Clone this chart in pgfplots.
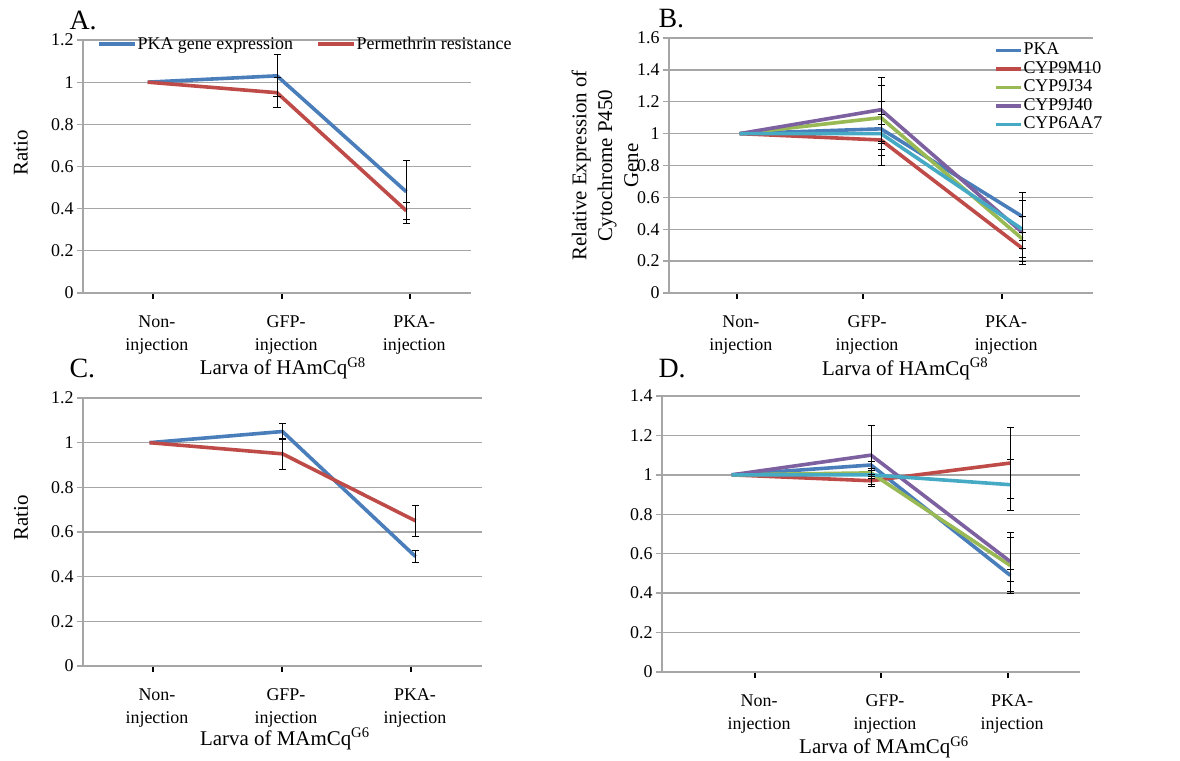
\documentclass[border=0pt]{standalone}
\usepackage{fontspec}
\setmainfont{Liberation Serif}
\usepackage{pgfplots}
\pgfplotsset{compat=1.18}
\definecolor{xblue}{HTML}{4A7EBB}
\definecolor{xred}{HTML}{BE4B48}
\definecolor{xgreen}{HTML}{98B954}
\definecolor{xpurple}{HTML}{7D60A0}
\definecolor{xcyan}{HTML}{46AAC5}
\definecolor{gridgray}{HTML}{A6A6A6}
\pgfplotsset{
 panel/.style={
  scale only axis, xmin=-0.5, xmax=2.5, ymin=0,
  axis x line=bottom, axis y line=left,
  axis line style={-, gridgray, line width=1.3bp},
  ymajorgrids, grid style={gridgray, line width=1.3bp},
  tick align=outside, major tick length=6bp,
  ytick style={gridgray, line width=1.3bp},
  xtick style={black, line width=1.8bp},
  ticklabel style={font=\fontsize{18}{23}\selectfont},
  xticklabel style={align=center, yshift=-13bp, xshift=4bp},
  xticklabels={Non-\\injection, GFP-\\injection, PKA-\\injection},
  /pgf/number format/assume math mode=true,
  yticklabel style={/pgf/number format/fixed},
  label style={font=\fontsize{21}{26}\selectfont},
  clip=false,
 },
 ln/.style={line width=3.6bp, line join=round},
 ebar/.style={draw=none, mark=none, forget plot,
   error bars/.cd, y dir=both, y explicit, error mark=-,
   error bar style={draw=black, solid, line width=1bp},
   error mark options={rotate=90, draw=black, solid, line width=1bp, mark size=3.5bp}},
}
\begin{document}
\begin{tikzpicture}[x=1bp,y=1bp]

% ---------- A ----------
\begin{axis}[panel, at={(83bp,468bp)}, anchor=south west, width=388bp, height=253bp,
  ymax=1.2, ytick={0,0.2,0.4,0.6,0.8,1,1.2}, xtick={0.04,1.04,2.03},
  ylabel={Ratio}, ylabel style={at={(axis description cs:-0.16,0.553)}, anchor=center},
  xlabel={Larva of HAmCq\textsuperscript{G8}}, xlabel style={at={(axis description cs:0.515,-0.324)}, anchor=base},
  legend style={at={(axis description cs:0.028,0.984)}, anchor=west, draw=none, fill=none,
    legend columns=2, font=\fontsize{18}{20}\selectfont, nodes={inner sep=1bp},
    /tikz/every even column/.append style={column sep=22bp}},
  legend image code/.code={\draw[#1, line width=3.6bp] (0bp,0bp) -- (36bp,0bp);}]
\addplot[xblue, ln] coordinates {(0,1) (1,1.03) (2,0.48)};
\addlegendentry{PKA gene expression}
\addplot[xred, ln] coordinates {(0,1) (1,0.95) (2,0.39)};
\addlegendentry{Permethrin resistance}
\addplot[ebar] coordinates {(1,1.03) +- (0,0.10) (2,0.48) +- (0,0.15)};
\addplot[ebar] coordinates {(1,0.95) +- (0,0.07) (2,0.39) +- (0,0.04)};
\end{axis}

% ---------- B ----------
\begin{axis}[panel, at={(669bp,468bp)}, anchor=south west, width=424bp, height=255bp,
  ymax=1.6, ytick={0,0.2,0.4,0.6,0.8,1,1.2,1.4,1.6}, xtick={-0.02,0.873,1.857},
  ylabel={Relative Expression of\\Cytochrome P450\\Gene},
  ylabel style={at={(axis description cs:-0.151,0.50)}, anchor=center, align=center},
  xlabel={Larva of HAmCq\textsuperscript{G8}}, xlabel style={at={(axis description cs:0.557,-0.322)}, anchor=base},
  legend style={at={(axis description cs:0.760,0.996)}, anchor=north west, draw=none, fill=none,
    font=\fontsize{18}{18}\selectfont, nodes={inner sep=0.5bp, text height=13bp, text depth=4.5bp}, row sep=0pt},
  legend cell align=left,
  legend image code/.code={\draw[#1, line width=3.6bp] (0bp,0bp) -- (25bp,0bp);}]
\addplot[xblue, ln] coordinates {(0,1) (1,1.03) (2,0.48)};
\addlegendentry{PKA}
\addplot[xred, ln] coordinates {(0,1) (1,0.96) (2,0.28)};
\addlegendentry{CYP9M10}
\addplot[xgreen, ln] coordinates {(0,1) (1,1.10) (2,0.34)};
\addlegendentry{CYP9J34}
\addplot[xpurple, ln] coordinates {(0,1) (1,1.15) (2,0.38)};
\addlegendentry{CYP9J40}
\addplot[xcyan, ln] coordinates {(0,1) (1,1.00) (2,0.40)};
\addlegendentry{CYP6AA7}
\addplot[ebar] coordinates {(1,1.03) +- (0,0.17) (2,0.48) +- (0,0.15)};
\addplot[ebar] coordinates {(1,0.96) +- (0,0.16) (2,0.28) +- (0,0.10)};
\addplot[ebar] coordinates {(1,1.10) +- (0,0.20) (2,0.34) +- (0,0.14)};
\addplot[ebar] coordinates {(1,1.15) +- (0,0.20) (2,0.38) +- (0,0.10)};
\addplot[ebar] coordinates {(1,1.00) +- (0,0.06) (2,0.40) +- (0,0.18)};
\end{axis}

% ---------- C ----------
\begin{axis}[panel, at={(83bp,95bp)}, anchor=south west, width=399bp, height=268bp,
  ymax=1.2, ytick={0,0.2,0.4,0.6,0.8,1,1.2}, xtick={0.026,0.996,1.966},
  ylabel={Ratio}, ylabel style={at={(axis description cs:-0.155,0.552)}, anchor=center},
  xlabel={Larva of MAmCq\textsuperscript{G6}}, xlabel style={at={(axis description cs:0.506,-0.295)}, anchor=base}]
\addplot[xblue, ln] coordinates {(0,1) (1,1.05) (2,0.49)};
\addplot[xred, ln] coordinates {(0,1) (1,0.95) (2,0.65)};
\addplot[ebar] coordinates {(1,1.05) +- (0,0.035) (2,0.49) +- (0,0.027)};
\addplot[ebar] coordinates {(1,0.95) +- (0,0.07) (2,0.65) +- (0,0.07)};
\end{axis}

% ---------- D ----------
\begin{axis}[panel, at={(662bp,89bp)}, anchor=south west, width=418bp, height=276bp,
  ymax=1.4, ytick={0,0.2,0.4,0.6,0.8,1,1.2,1.4}, xtick={0.168,1.072,1.984},
  xlabel={Larva of MAmCq\textsuperscript{G6}}, xlabel style={at={(axis description cs:0.531,-0.297)}, anchor=base}]
\addplot[xblue, ln] coordinates {(0,1) (1,1.05) (2,0.49)};
\addplot[xred, ln] coordinates {(0,1) (1,0.97) (2,1.06)};
\addplot[xgreen, ln] coordinates {(0,1) (1,1.01) (2,0.54)};
\addplot[xpurple, ln] coordinates {(0,1) (1,1.10) (2,0.56)};
\addplot[xcyan, ln] coordinates {(0,1) (1,1.00) (2,0.95)};
\addplot[ebar] coordinates {(1,1.05) +- (0,0.02) (2,0.49) +- (0,0.03)};
\addplot[ebar] coordinates {(1,0.97) +- (0,0.03) (2,1.06) +- (0,0.18)};
\addplot[ebar] coordinates {(1,1.01) +- (0,0.02) (2,0.54) +- (0,0.14)};
\addplot[ebar] coordinates {(1,1.10) +- (0,0.15) (2,0.56) +- (0,0.15)};
\addplot[ebar] coordinates {(1,1.00) +- (0,0.02) (2,0.95) +- (0,0.13)};
\end{axis}

\node[anchor=base west, font=\fontsize{28}{30}\selectfont] at (66bp,731bp) {A.};
\node[anchor=base west, font=\fontsize{28}{30}\selectfont] at (655bp,733bp) {B.};
\node[anchor=base west, font=\fontsize{28}{30}\selectfont] at (66bp,383bp) {C.};
\node[anchor=base west, font=\fontsize{28}{30}\selectfont] at (655bp,383bp) {D.};
\pgfresetboundingbox
\path[use as bounding box] (0bp,0bp) rectangle (1180bp,761bp);
\end{tikzpicture}
\end{document}
